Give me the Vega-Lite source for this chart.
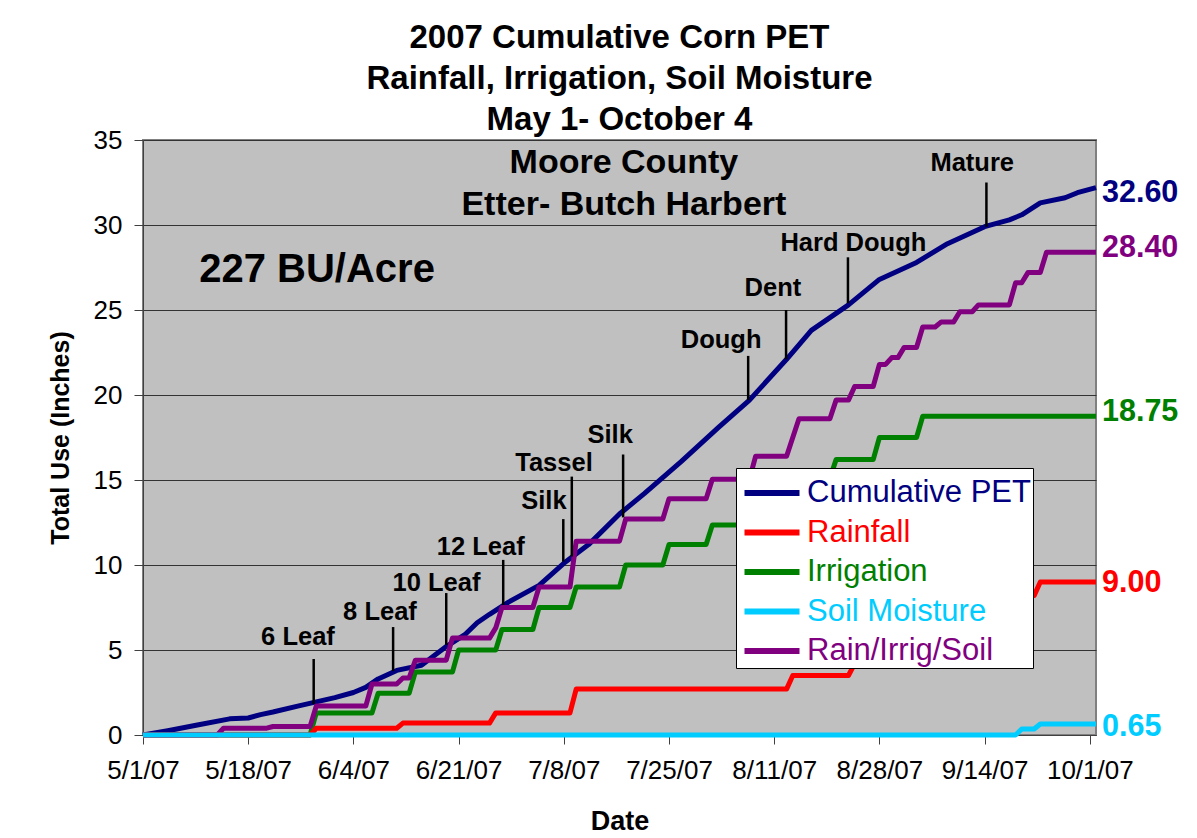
{
  "$schema": "https://vega.github.io/schema/vega-lite/v6.json",
  "width": 953,
  "height": 595,
  "autosize": {"type": "none"},
  "padding": {"left": 143, "top": 140, "right": 101, "bottom": 103},
  "background": "white",
  "config": {
    "font": "Liberation Sans",
    "view": {"stroke": "#808080", "strokeWidth": 2, "fill": "#C0C0C0"}
  },
  "title": {
    "text": ["2007 Cumulative Corn PET", "Rainfall, Irrigation, Soil Moisture", "May 1- October 4"],
    "fontSize": 33,
    "fontWeight": "bold",
    "lineHeight": 41,
    "anchor": "middle",
    "color": "black",
    "offset": 8,
    "dy": 18
  },
  "datasets": {
    "series": [
      {"s": "Cumulative PET", "d": "2007/05/01", "v": 0},
      {"s": "Cumulative PET", "d": "2007/05/05", "v": 0.25},
      {"s": "Cumulative PET", "d": "2007/05/10", "v": 0.6},
      {"s": "Cumulative PET", "d": "2007/05/15", "v": 0.95},
      {"s": "Cumulative PET", "d": "2007/05/18", "v": 1.0},
      {"s": "Cumulative PET", "d": "2007/05/20", "v": 1.2},
      {"s": "Cumulative PET", "d": "2007/05/22", "v": 1.35},
      {"s": "Cumulative PET", "d": "2007/05/26", "v": 1.7},
      {"s": "Cumulative PET", "d": "2007/05/29", "v": 1.95},
      {"s": "Cumulative PET", "d": "2007/06/01", "v": 2.2},
      {"s": "Cumulative PET", "d": "2007/06/04", "v": 2.5},
      {"s": "Cumulative PET", "d": "2007/06/06", "v": 2.8},
      {"s": "Cumulative PET", "d": "2007/06/08", "v": 3.3},
      {"s": "Cumulative PET", "d": "2007/06/11", "v": 3.8},
      {"s": "Cumulative PET", "d": "2007/06/15", "v": 4.1},
      {"s": "Cumulative PET", "d": "2007/06/19", "v": 5.2},
      {"s": "Cumulative PET", "d": "2007/06/22", "v": 5.9},
      {"s": "Cumulative PET", "d": "2007/06/24", "v": 6.6},
      {"s": "Cumulative PET", "d": "2007/06/26", "v": 7.1},
      {"s": "Cumulative PET", "d": "2007/06/29", "v": 7.8},
      {"s": "Cumulative PET", "d": "2007/07/04", "v": 8.8},
      {"s": "Cumulative PET", "d": "2007/07/08", "v": 10.1},
      {"s": "Cumulative PET", "d": "2007/07/12", "v": 11.2},
      {"s": "Cumulative PET", "d": "2007/07/17", "v": 13.0},
      {"s": "Cumulative PET", "d": "2007/07/21", "v": 14.2},
      {"s": "Cumulative PET", "d": "2007/07/27", "v": 16.1},
      {"s": "Cumulative PET", "d": "2007/08/02", "v": 18.1},
      {"s": "Cumulative PET", "d": "2007/08/07", "v": 19.7},
      {"s": "Cumulative PET", "d": "2007/08/13", "v": 22.1},
      {"s": "Cumulative PET", "d": "2007/08/17", "v": 23.8},
      {"s": "Cumulative PET", "d": "2007/08/23", "v": 25.3},
      {"s": "Cumulative PET", "d": "2007/08/28", "v": 26.8},
      {"s": "Cumulative PET", "d": "2007/09/03", "v": 27.8},
      {"s": "Cumulative PET", "d": "2007/09/08", "v": 28.9},
      {"s": "Cumulative PET", "d": "2007/09/14", "v": 29.9},
      {"s": "Cumulative PET", "d": "2007/09/18", "v": 30.3},
      {"s": "Cumulative PET", "d": "2007/09/20", "v": 30.6},
      {"s": "Cumulative PET", "d": "2007/09/23", "v": 31.3},
      {"s": "Cumulative PET", "d": "2007/09/27", "v": 31.6},
      {"s": "Cumulative PET", "d": "2007/09/29", "v": 31.9},
      {"s": "Cumulative PET", "d": "2007/10/02", "v": 32.2},

      {"s": "Irrigation", "d": "2007/05/01", "v": 0},
      {"s": "Irrigation", "d": "2007/05/28", "v": 0},
      {"s": "Irrigation", "d": "2007/05/29", "v": 1.3},
      {"s": "Irrigation", "d": "2007/06/07", "v": 1.3},
      {"s": "Irrigation", "d": "2007/06/08", "v": 2.45},
      {"s": "Irrigation", "d": "2007/06/13", "v": 2.45},
      {"s": "Irrigation", "d": "2007/06/14", "v": 3.7},
      {"s": "Irrigation", "d": "2007/06/20", "v": 3.7},
      {"s": "Irrigation", "d": "2007/06/21", "v": 5.0},
      {"s": "Irrigation", "d": "2007/06/27", "v": 5.0},
      {"s": "Irrigation", "d": "2007/06/28", "v": 6.2},
      {"s": "Irrigation", "d": "2007/07/03", "v": 6.2},
      {"s": "Irrigation", "d": "2007/07/04", "v": 7.5},
      {"s": "Irrigation", "d": "2007/07/09", "v": 7.5},
      {"s": "Irrigation", "d": "2007/07/10", "v": 8.7},
      {"s": "Irrigation", "d": "2007/07/17", "v": 8.7},
      {"s": "Irrigation", "d": "2007/07/18", "v": 10.0},
      {"s": "Irrigation", "d": "2007/07/24", "v": 10.0},
      {"s": "Irrigation", "d": "2007/07/25", "v": 11.2},
      {"s": "Irrigation", "d": "2007/07/31", "v": 11.2},
      {"s": "Irrigation", "d": "2007/08/01", "v": 12.35},
      {"s": "Irrigation", "d": "2007/08/07", "v": 12.35},
      {"s": "Irrigation", "d": "2007/08/08", "v": 13.7},
      {"s": "Irrigation", "d": "2007/08/13", "v": 13.7},
      {"s": "Irrigation", "d": "2007/08/14", "v": 15.1},
      {"s": "Irrigation", "d": "2007/08/20", "v": 15.1},
      {"s": "Irrigation", "d": "2007/08/21", "v": 16.2},
      {"s": "Irrigation", "d": "2007/08/27", "v": 16.2},
      {"s": "Irrigation", "d": "2007/08/28", "v": 17.5},
      {"s": "Irrigation", "d": "2007/09/03", "v": 17.5},
      {"s": "Irrigation", "d": "2007/09/04", "v": 18.75},
      {"s": "Irrigation", "d": "2007/10/02", "v": 18.75},

      {"s": "Rain/Irrig/Soil", "d": "2007/05/01", "v": 0},
      {"s": "Rain/Irrig/Soil", "d": "2007/05/13", "v": 0},
      {"s": "Rain/Irrig/Soil", "d": "2007/05/14", "v": 0.4},
      {"s": "Rain/Irrig/Soil", "d": "2007/05/21", "v": 0.4},
      {"s": "Rain/Irrig/Soil", "d": "2007/05/22", "v": 0.5},
      {"s": "Rain/Irrig/Soil", "d": "2007/05/28", "v": 0.5},
      {"s": "Rain/Irrig/Soil", "d": "2007/05/29", "v": 1.7},
      {"s": "Rain/Irrig/Soil", "d": "2007/06/06", "v": 1.7},
      {"s": "Rain/Irrig/Soil", "d": "2007/06/07", "v": 3.0},
      {"s": "Rain/Irrig/Soil", "d": "2007/06/11", "v": 3.0},
      {"s": "Rain/Irrig/Soil", "d": "2007/06/12", "v": 3.35},
      {"s": "Rain/Irrig/Soil", "d": "2007/06/13", "v": 3.35},
      {"s": "Rain/Irrig/Soil", "d": "2007/06/14", "v": 4.4},
      {"s": "Rain/Irrig/Soil", "d": "2007/06/19", "v": 4.4},
      {"s": "Rain/Irrig/Soil", "d": "2007/06/20", "v": 5.7},
      {"s": "Rain/Irrig/Soil", "d": "2007/06/26", "v": 5.7},
      {"s": "Rain/Irrig/Soil", "d": "2007/06/27", "v": 6.3},
      {"s": "Rain/Irrig/Soil", "d": "2007/06/28", "v": 7.5},
      {"s": "Rain/Irrig/Soil", "d": "2007/07/03", "v": 7.5},
      {"s": "Rain/Irrig/Soil", "d": "2007/07/04", "v": 8.7},
      {"s": "Rain/Irrig/Soil", "d": "2007/07/09", "v": 8.7},
      {"s": "Rain/Irrig/Soil", "d": "2007/07/10", "v": 11.4},
      {"s": "Rain/Irrig/Soil", "d": "2007/07/17", "v": 11.4},
      {"s": "Rain/Irrig/Soil", "d": "2007/07/18", "v": 12.7},
      {"s": "Rain/Irrig/Soil", "d": "2007/07/24", "v": 12.7},
      {"s": "Rain/Irrig/Soil", "d": "2007/07/25", "v": 13.9},
      {"s": "Rain/Irrig/Soil", "d": "2007/07/31", "v": 13.9},
      {"s": "Rain/Irrig/Soil", "d": "2007/08/01", "v": 15.05},
      {"s": "Rain/Irrig/Soil", "d": "2007/08/07", "v": 15.05},
      {"s": "Rain/Irrig/Soil", "d": "2007/08/08", "v": 16.4},
      {"s": "Rain/Irrig/Soil", "d": "2007/08/13", "v": 16.4},
      {"s": "Rain/Irrig/Soil", "d": "2007/08/15", "v": 18.6},
      {"s": "Rain/Irrig/Soil", "d": "2007/08/20", "v": 18.6},
      {"s": "Rain/Irrig/Soil", "d": "2007/08/21", "v": 19.7},
      {"s": "Rain/Irrig/Soil", "d": "2007/08/23", "v": 19.7},
      {"s": "Rain/Irrig/Soil", "d": "2007/08/24", "v": 20.5},
      {"s": "Rain/Irrig/Soil", "d": "2007/08/27", "v": 20.5},
      {"s": "Rain/Irrig/Soil", "d": "2007/08/28", "v": 21.8},
      {"s": "Rain/Irrig/Soil", "d": "2007/08/29", "v": 21.8},
      {"s": "Rain/Irrig/Soil", "d": "2007/08/30", "v": 22.2},
      {"s": "Rain/Irrig/Soil", "d": "2007/08/31", "v": 22.2},
      {"s": "Rain/Irrig/Soil", "d": "2007/09/01", "v": 22.8},
      {"s": "Rain/Irrig/Soil", "d": "2007/09/03", "v": 22.8},
      {"s": "Rain/Irrig/Soil", "d": "2007/09/04", "v": 24.0},
      {"s": "Rain/Irrig/Soil", "d": "2007/09/06", "v": 24.0},
      {"s": "Rain/Irrig/Soil", "d": "2007/09/07", "v": 24.3},
      {"s": "Rain/Irrig/Soil", "d": "2007/09/09", "v": 24.3},
      {"s": "Rain/Irrig/Soil", "d": "2007/09/10", "v": 24.9},
      {"s": "Rain/Irrig/Soil", "d": "2007/09/12", "v": 24.9},
      {"s": "Rain/Irrig/Soil", "d": "2007/09/13", "v": 25.3},
      {"s": "Rain/Irrig/Soil", "d": "2007/09/18", "v": 25.3},
      {"s": "Rain/Irrig/Soil", "d": "2007/09/19", "v": 26.6},
      {"s": "Rain/Irrig/Soil", "d": "2007/09/20", "v": 26.6},
      {"s": "Rain/Irrig/Soil", "d": "2007/09/21", "v": 27.2},
      {"s": "Rain/Irrig/Soil", "d": "2007/09/23", "v": 27.2},
      {"s": "Rain/Irrig/Soil", "d": "2007/09/24", "v": 28.4},
      {"s": "Rain/Irrig/Soil", "d": "2007/10/02", "v": 28.4},

      {"s": "Rainfall", "d": "2007/05/01", "v": 0},
      {"s": "Rainfall", "d": "2007/05/28", "v": 0},
      {"s": "Rainfall", "d": "2007/05/29", "v": 0.4},
      {"s": "Rainfall", "d": "2007/06/11", "v": 0.4},
      {"s": "Rainfall", "d": "2007/06/12", "v": 0.7},
      {"s": "Rainfall", "d": "2007/06/26", "v": 0.7},
      {"s": "Rainfall", "d": "2007/06/27", "v": 1.3},
      {"s": "Rainfall", "d": "2007/07/09", "v": 1.3},
      {"s": "Rainfall", "d": "2007/07/10", "v": 2.7},
      {"s": "Rainfall", "d": "2007/08/13", "v": 2.7},
      {"s": "Rainfall", "d": "2007/08/14", "v": 3.5},
      {"s": "Rainfall", "d": "2007/08/23", "v": 3.5},
      {"s": "Rainfall", "d": "2007/08/24", "v": 4.2},
      {"s": "Rainfall", "d": "2007/08/27", "v": 4.2},
      {"s": "Rainfall", "d": "2007/08/28", "v": 4.3},
      {"s": "Rainfall", "d": "2007/08/29", "v": 4.3},
      {"s": "Rainfall", "d": "2007/08/30", "v": 4.7},
      {"s": "Rainfall", "d": "2007/08/31", "v": 4.7},
      {"s": "Rainfall", "d": "2007/09/01", "v": 5.3},
      {"s": "Rainfall", "d": "2007/09/06", "v": 5.3},
      {"s": "Rainfall", "d": "2007/09/07", "v": 5.55},
      {"s": "Rainfall", "d": "2007/09/09", "v": 5.55},
      {"s": "Rainfall", "d": "2007/09/10", "v": 6.15},
      {"s": "Rainfall", "d": "2007/09/12", "v": 6.15},
      {"s": "Rainfall", "d": "2007/09/13", "v": 6.55},
      {"s": "Rainfall", "d": "2007/09/18", "v": 6.55},
      {"s": "Rainfall", "d": "2007/09/19", "v": 7.85},
      {"s": "Rainfall", "d": "2007/09/20", "v": 7.85},
      {"s": "Rainfall", "d": "2007/09/21", "v": 8.2},
      {"s": "Rainfall", "d": "2007/09/22", "v": 8.2},
      {"s": "Rainfall", "d": "2007/09/23", "v": 9.0},
      {"s": "Rainfall", "d": "2007/10/02", "v": 9.0},

      {"s": "Soil Moisture", "d": "2007/05/01", "v": 0},
      {"s": "Soil Moisture", "d": "2007/09/19", "v": 0},
      {"s": "Soil Moisture", "d": "2007/09/20", "v": 0.35},
      {"s": "Soil Moisture", "d": "2007/09/22", "v": 0.35},
      {"s": "Soil Moisture", "d": "2007/09/23", "v": 0.65},
      {"s": "Soil Moisture", "d": "2007/10/02", "v": 0.65}
    ],
    "stages": [
      {"stage": "6 Leaf", "d": "2007/05/28 14:00", "lo": 1.82, "hi": 4.47, "ld": "2007/05/26 01:00", "ly": 5.76},
      {"stage": "8 Leaf", "d": "2007/06/10 10:00", "lo": 3.76, "hi": 6.35, "ld": "2007/06/08 07:00", "ly": 7.24},
      {"stage": "10 Leaf", "d": "2007/06/19 00:00", "lo": 5.3, "hi": 8.35, "ld": "2007/06/17 10:00", "ly": 8.94},
      {"stage": "12 Leaf", "d": "2007/06/28 05:00", "lo": 7.65, "hi": 10.3, "ld": "2007/06/24 14:00", "ly": 11.06},
      {"stage": "Silk", "d": "2007/07/07 22:00", "lo": 10.2, "hi": 12.7, "ld": "2007/07/04 19:00", "ly": 13.76},
      {"stage": "Tassel", "d": "2007/07/09 07:00", "lo": 10.5, "hi": 15.2, "ld": "2007/07/06 10:00", "ly": 16.0},
      {"stage": "Silk", "d": "2007/07/17 14:00", "lo": 12.8, "hi": 16.5, "ld": "2007/07/15 12:00", "ly": 17.65},
      {"stage": "Dough", "d": "2007/08/06 19:00", "lo": 19.7, "hi": 22.3, "ld": "2007/08/02 10:00", "ly": 23.24},
      {"stage": "Dent", "d": "2007/08/12 22:00", "lo": 22.1, "hi": 25.0, "ld": "2007/08/10 19:00", "ly": 26.3},
      {"stage": "Hard Dough", "d": "2007/08/22 22:00", "lo": 25.4, "hi": 28.1, "ld": "2007/08/23 19:00", "ly": 28.94},
      {"stage": "Mature", "d": "2007/09/14 07:00", "lo": 29.9, "hi": 32.5, "ld": "2007/09/12 00:00", "ly": 33.65}
    ],
    "notes": [
      {"note": "Moore County", "d": "2007/07/17 17:00", "y": 33.65},
      {"note": "Etter- Butch Harbert", "d": "2007/07/17 17:00", "y": 31.2}
    ],
    "yield": [
      {"note": "227 BU/Acre", "d": "2007/05/29 03:00", "y": 27.35}
    ],
    "ends": [
      {"s": "Cumulative PET", "d": "2007/10/02", "y": 31.9, "label": "32.60"},
      {"s": "Rain/Irrig/Soil", "d": "2007/10/02", "y": 28.65, "label": "28.40"},
      {"s": "Irrigation", "d": "2007/10/02", "y": 19.0, "label": "18.75"},
      {"s": "Rainfall", "d": "2007/10/02", "y": 8.94, "label": "9.00"},
      {"s": "Soil Moisture", "d": "2007/10/02", "y": 0.45, "label": "0.65"}
    ]
  },
  "layer": [
    {
      "data": {"name": "series"},
      "mark": {"type": "line", "strokeWidth": 5, "strokeJoin": "round"},
      "encoding": {
        "x": {
          "field": "d",
          "type": "temporal",
          "scale": {"domain": [{"year": 2007, "month": 5, "date": 1}, {"year": 2007, "month": 10, "date": 2}]},
          "axis": {
            "values": [
              {"year": 2007, "month": 5, "date": 1},
              {"year": 2007, "month": 5, "date": 18},
              {"year": 2007, "month": 6, "date": 4},
              {"year": 2007, "month": 6, "date": 21},
              {"year": 2007, "month": 7, "date": 8},
              {"year": 2007, "month": 7, "date": 25},
              {"year": 2007, "month": 8, "date": 11},
              {"year": 2007, "month": 8, "date": 28},
              {"year": 2007, "month": 9, "date": 14},
              {"year": 2007, "month": 10, "date": 1}
            ],
            "format": "%-m/%-d/%y",
            "labelFontSize": 26,
            "labelColor": "black",
            "labelPadding": 13,
            "labelFlush": false,
            "labelOverlap": false,
            "tickSize": 9,
            "tickColor": "#404040",
            "domainColor": "#404040",
            "grid": false,
            "title": "Date",
            "titleFontSize": 27,
            "titleFontWeight": "bold",
            "titleColor": "black",
            "titlePadding": 25
          }
        },
        "y": {
          "field": "v",
          "type": "quantitative",
          "scale": {"domain": [0, 35], "nice": false},
          "axis": {
            "values": [0, 5, 10, 15, 20, 25, 30, 35],
            "labelFontSize": 26,
            "labelColor": "black",
            "labelPadding": 12,
            "labelFlush": false,
            "tickSize": 9,
            "tickColor": "#404040",
            "domainColor": "#404040",
            "grid": true,
            "gridColor": "#333333",
            "gridWidth": 1,
            "title": "Total Use (Inches)",
            "titleFontSize": 25,
            "titleFontWeight": "bold",
            "titleColor": "black",
            "titlePadding": 20
          }
        },
        "color": {
          "field": "s",
          "type": "nominal",
          "scale": {
            "domain": ["Cumulative PET", "Rainfall", "Irrigation", "Soil Moisture", "Rain/Irrig/Soil"],
            "range": ["#000080", "#FF0000", "#008000", "#00CCFF", "#800080"]
          },
          "legend": {
            "orient": "none",
            "legendX": 593,
            "legendY": 328,
            "title": null,
            "fillColor": "white",
            "strokeColor": "black",
            "padding": 2,
            "symbolType": "M-1.375,0H1.375",
            "symbolSize": 1600,
            "symbolStrokeWidth": 6,
            "symbolOffset": 11,
            "labelFontSize": 31,
            "labelFont": "Liberation Sans",
            "labelLimit": 400,
            "labelOffset": 12,
            "rowPadding": 1.5,
            "encode": {"labels": {"update": {"fill": {"scale": "color", "field": "value"}}}}
          }
        }
      }
    },
    {
      "data": {"name": "stages"},
      "mark": {"type": "rule", "color": "black", "strokeWidth": 2.5},
      "encoding": {
        "x": {"field": "d", "type": "temporal"},
        "y": {"field": "lo", "type": "quantitative"},
        "y2": {"field": "hi"}
      }
    },
    {
      "data": {"name": "stages"},
      "mark": {"type": "text", "fontSize": 25.5, "fontWeight": "bold", "color": "black", "baseline": "middle", "align": "center"},
      "encoding": {
        "x": {"field": "ld", "type": "temporal"},
        "y": {"field": "ly", "type": "quantitative"},
        "text": {"field": "stage"}
      }
    },
    {
      "data": {"name": "notes"},
      "mark": {"type": "text", "fontSize": 34, "fontWeight": "bold", "color": "black", "baseline": "middle", "align": "center"},
      "encoding": {
        "x": {"field": "d", "type": "temporal"},
        "y": {"field": "y", "type": "quantitative"},
        "text": {"field": "note"}
      }
    },
    {
      "data": {"name": "yield"},
      "mark": {"type": "text", "fontSize": 40, "fontWeight": "bold", "color": "black", "baseline": "middle", "align": "center"},
      "encoding": {
        "x": {"field": "d", "type": "temporal"},
        "y": {"field": "y", "type": "quantitative"},
        "text": {"field": "note"}
      }
    },
    {
      "data": {"name": "ends"},
      "mark": {"type": "text", "fontSize": 30.5, "fontWeight": "bold", "baseline": "middle", "align": "left", "dx": 6},
      "encoding": {
        "x": {"field": "d", "type": "temporal"},
        "y": {"field": "y", "type": "quantitative"},
        "text": {"field": "label"},
        "fill": {
          "field": "s",
          "type": "nominal",
          "scale": {
            "domain": ["Cumulative PET", "Rainfall", "Irrigation", "Soil Moisture", "Rain/Irrig/Soil"],
            "range": ["#000080", "#FF0000", "#008000", "#00CCFF", "#800080"]
          },
          "legend": null
        }
      }
    }
  ]
}
